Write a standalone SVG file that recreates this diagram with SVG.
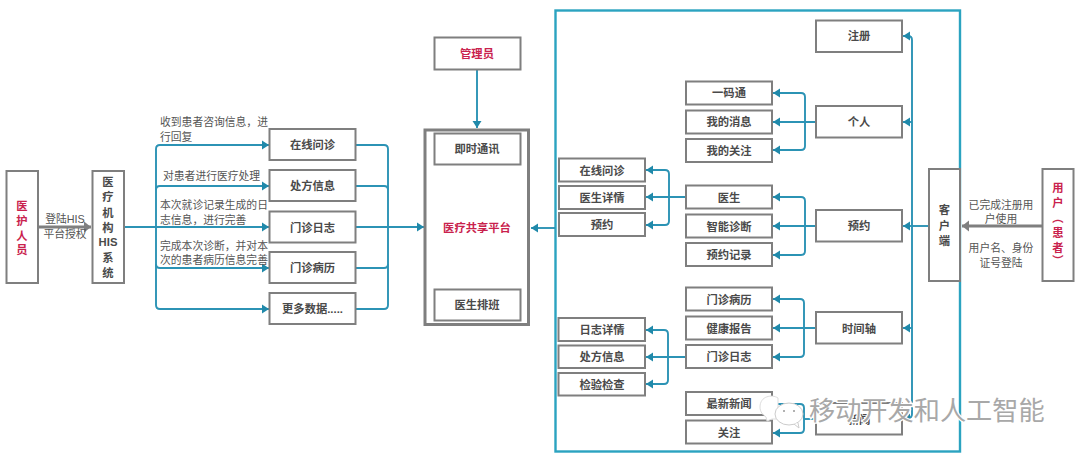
<svg xmlns="http://www.w3.org/2000/svg" width="1080" height="459" viewBox="0 0 1080 459">
<style>
text{font-family:"Liberation Sans","Noto Sans CJK SC",sans-serif;fill:#4a4a4a;text-anchor:middle;dominant-baseline:central}
.b{fill:#fff;stroke:#7f7f7f;stroke-width:2}
.n{font-size:11.3px;font-weight:700}
.r{fill:#c9224d;font-weight:700;font-size:11.3px}
.a{font-size:10.8px;font-weight:400;fill:#555;text-anchor:start}
.c{fill:#555;font-size:10.8px}
.t{fill:none;stroke:#2c93b5;stroke-width:1.9}
.g{fill:none;stroke:#7f7f7f;stroke-width:2.8}
.wm{font-size:26.2px;fill:#a8a8a8;stroke:#fff;stroke-width:2.5;paint-order:stroke;text-anchor:start}
</style>
<defs>
<marker id="at" markerUnits="userSpaceOnUse" markerWidth="8" markerHeight="10" refX="7" refY="5" orient="auto"><path d="M0 0.5L7 5L0 9.500Z" fill="#2089aa"/></marker>
<marker id="ag" markerUnits="userSpaceOnUse" markerWidth="8" markerHeight="12" refX="7" refY="6" orient="auto"><path d="M0 0.5L7 6L0 11.500Z" fill="#7f7f7f"/></marker>
</defs>
<rect width="1080" height="459" fill="#fff"/>
<rect id="frame" x="555.5" y="10.5" width="404.5" height="441" fill="none" stroke="#2ba3c0" stroke-width="2.4"/>
<g id="connectors">
<path class="g" d="M38 227H91" marker-end="url(#ag)"/>
<path class="g" d="M1042 226H962" marker-end="url(#ag)"/>
<g class="t">
<path d="M124 227H269" marker-end="url(#at)"/>
<path d="M269 145H160Q156 145 156 149V305Q156 309 160 309H269" marker-end="url(#at)"/>
<path d="M160 145H269" marker-end="url(#at)"/>
<path d="M156 190Q156 186 160 186H269" marker-end="url(#at)"/>
<path d="M156 264Q156 268 160 268H269" marker-end="url(#at)"/>
<path d="M356 145H384Q388 145 388 149V305Q388 309 384 309H356"/>
<path d="M356 186H384Q388 186 388 190"/>
<path d="M356 268H384Q388 268 388 264"/>
<path d="M356 227H424" marker-end="url(#at)"/>
<path d="M477 69V128" marker-end="url(#at)"/>
<path d="M555 228H531" marker-end="url(#at)"/>
<path d="M929 226H903" marker-end="url(#at)"/>
<path d="M908 36Q912 36 912 40V414Q912 418 908 418H903" marker-end="url(#at)"/>
<path d="M910 36H903" marker-end="url(#at)"/>
<path d="M912 122H903" marker-end="url(#at)"/>
<path d="M912 328H903" marker-end="url(#at)"/>
<path d="M816 122H773" marker-end="url(#at)"/>
<path d="M773 93H801Q805 93 805 97V146Q805 150 801 150H773"/>
<path d="M801 93H773" marker-end="url(#at)"/>
<path d="M801 150H773" marker-end="url(#at)"/>
<path d="M816 226H773" marker-end="url(#at)"/>
<path d="M773 197H801Q805 197 805 201V251Q805 255 801 255H773"/>
<path d="M801 197H773" marker-end="url(#at)"/>
<path d="M801 255H773" marker-end="url(#at)"/>
<path d="M686 197H646" marker-end="url(#at)"/>
<path d="M646 170H665Q669 170 669 174V221Q669 225 665 225H646"/>
<path d="M665 170H646" marker-end="url(#at)"/>
<path d="M665 225H646" marker-end="url(#at)"/>
<path d="M816 328H773" marker-end="url(#at)"/>
<path d="M773 299H800Q804 299 804 303V353Q804 357 800 357H773"/>
<path d="M800 299H773" marker-end="url(#at)"/>
<path d="M800 357H773" marker-end="url(#at)"/>
<path d="M686 357H646" marker-end="url(#at)"/>
<path d="M646 330H664Q668 330 668 334V380Q668 384 664 384H646"/>
<path d="M664 330H646" marker-end="url(#at)"/>
<path d="M664 384H646" marker-end="url(#at)"/>
<path d="M816 419H804"/>
<path d="M773 404H800Q804 404 804 408V429Q804 433 800 433H773"/>
<path d="M800 433H773" marker-end="url(#at)"/>
</g>
</g>
<g id="medstaff"><rect class="b" x="6.5" y="171" width="31.5" height="112"/><text class="r"><tspan x="22" y="206">医</tspan><tspan x="22" y="221">护</tspan><tspan x="22" y="236">人</tspan><tspan x="22" y="250">员</tspan></text></g>
<g id="his"><rect class="b" x="92.5" y="171" width="31.5" height="112"/><text class="n"><tspan x="108" y="182">医</tspan><tspan x="108" y="197">疗</tspan><tspan x="108" y="213">机</tspan><tspan x="108" y="228">构</tspan><tspan x="108" y="242">HIS</tspan><tspan x="108" y="258">系</tspan><tspan x="108" y="273">统</tspan></text></g>
<g id="lbl-auth"><text class="c" x="65" y="219">登陆HIS</text><text class="c" x="65" y="234">平台授权</text></g>
<g id="lbl-notes">
<text class="a" x="160" y="122">收到患者咨询信息，进</text><text class="a" x="160" y="137">行回复</text>
<text class="a" x="163" y="176">对患者进行医疗处理</text>
<text class="a" x="160" y="205">本次就诊记录生成的日</text><text class="a" x="160" y="220">志信息，进行完善</text>
<text class="a" x="160" y="246">完成本次诊断，并对本</text><text class="a" x="160" y="260">次的患者病历信息完善</text>
</g>
<g id="h1"><rect class="b" x="269.5" y="129" width="86" height="31"/><text class="n" x="312.5" y="145">在线问诊</text></g>
<g id="h2"><rect class="b" x="269.5" y="170" width="86" height="31"/><text class="n" x="312.5" y="186">处方信息</text></g>
<g id="h3"><rect class="b" x="269.5" y="211.500" width="86" height="31"/><text class="n" x="312.5" y="228">门诊日志</text></g>
<g id="h4"><rect class="b" x="269.5" y="252" width="86" height="31"/><text class="n" x="312.5" y="268">门诊病历</text></g>
<g id="h5"><rect class="b" x="269.5" y="293" width="86" height="31"/><text class="n" x="312.500" y="309">更多数据.....</text></g>
<g id="admin"><rect class="b" x="434.500" y="37.500" width="86" height="32"/><text class="r" x="477" y="54">管理员</text></g>
<g id="platform"><rect x="425" y="130" width="103.500" height="194.500" fill="#fff" stroke="#7f7f7f" stroke-width="3"/><text class="r" x="477" y="228">医疗共享平台</text></g>
<g id="im"><rect class="b" x="434.500" y="133.500" width="86" height="31"/><text class="n" x="477" y="149">即时通讯</text></g>
<g id="sched"><rect class="b" x="434.500" y="289.500" width="86" height="31"/><text class="n" x="477" y="305">医生排班</text></g>
<g id="l1"><rect class="b" x="559" y="158.500" width="86" height="23"/><text class="n" x="602" y="171">在线问诊</text></g>
<g id="l2"><rect class="b" x="559" y="186" width="86" height="23"/><text class="n" x="602" y="198">医生详情</text></g>
<g id="l3"><rect class="b" x="559" y="213" width="86" height="23"/><text class="n" x="602" y="225">预约</text></g>
<g id="l4"><rect class="b" x="558.500" y="318" width="86.500" height="23"/><text class="n" x="602" y="330">日志详情</text></g>
<g id="l5"><rect class="b" x="558.500" y="345.500" width="86.500" height="22.500"/><text class="n" x="602" y="357">处方信息</text></g>
<g id="l6"><rect class="b" x="558.500" y="373" width="86.500" height="22.500"/><text class="n" x="602" y="385">检验检查</text></g>
<g id="m1"><rect class="b" x="686" y="81.500" width="86" height="23"/><text class="n" x="729" y="93">一码通</text></g>
<g id="m2"><rect class="b" x="686" y="110.500" width="86" height="23"/><text class="n" x="729" y="122">我的消息</text></g>
<g id="m3"><rect class="b" x="686" y="139" width="86" height="23"/><text class="n" x="729" y="151">我的关注</text></g>
<g id="m4"><rect class="b" x="686" y="185.500" width="86" height="23"/><text class="n" x="729" y="198">医生</text></g>
<g id="m5"><rect class="b" x="686" y="214.500" width="86" height="23"/><text class="n" x="729" y="227">智能诊断</text></g>
<g id="m6"><rect class="b" x="686" y="243" width="86" height="23"/><text class="n" x="729" y="255">预约记录</text></g>
<g id="m7"><rect class="b" x="686" y="287.500" width="86" height="23"/><text class="n" x="729" y="300">门诊病历</text></g>
<g id="m8"><rect class="b" x="686" y="316.500" width="86" height="23"/><text class="n" x="729" y="329">健康报告</text></g>
<g id="m9"><rect class="b" x="686" y="345" width="86" height="23"/><text class="n" x="729" y="357">门诊日志</text></g>
<g id="m10"><rect class="b" x="686" y="392" width="86" height="23"/><text class="n" x="729" y="404">最新新闻</text></g>
<g id="m11"><rect class="b" x="686" y="420.500" width="86" height="23"/><text class="n" x="729" y="433">关注</text></g>
<g id="r1"><rect class="b" x="816" y="20.500" width="86" height="31.500"/><text class="n" x="859" y="36">注册</text></g>
<g id="r2"><rect class="b" x="816" y="106" width="86" height="31.500"/><text class="n" x="859" y="122">个人</text></g>
<g id="r3"><rect class="b" x="816" y="210" width="86" height="31.500"/><text class="n" x="859" y="226">预约</text></g>
<g id="r4"><rect class="b" x="816" y="312" width="86" height="31.500"/><text class="n" x="859" y="329">时间轴</text></g>
<g id="r5"><rect class="b" x="816" y="403" width="86" height="31.500"/><text class="n" x="859" y="420">新闻</text></g>
<g id="client"><rect class="b" x="929" y="169" width="31" height="112"/><text class="n"><tspan x="944.500" y="210">客</tspan><tspan x="944.500" y="226">户</tspan><tspan x="944.500" y="241">端</tspan></text></g>
<g id="lbl-user"><text class="c" x="1001" y="205">已完成注册用</text><text class="c" x="1001" y="219">户使用</text><text class="c" x="1001" y="248">用户名、身份</text><text class="c" x="1001" y="263">证号登陆</text></g>
<g id="patient"><rect class="b" x="1042.500" y="169" width="31" height="112"/><text class="r"><tspan x="1058" y="188">用</tspan><tspan x="1058" y="203">户</tspan><tspan x="1058" y="218">︵</tspan><tspan x="1058" y="233">患</tspan><tspan x="1058" y="248">者</tspan><tspan x="1058" y="261">︶</tspan></text></g>
<g id="watermark">
<path d="M778 398c-6-4-18-2-18 9 0 5 3 8 6 10l1 4 5-2h6z" fill="#fff" stroke="#ddd" stroke-width="1"/>
<ellipse cx="789" cy="414" rx="14" ry="11" fill="#fff" stroke="#ccc" stroke-width="1"/>
<path d="M794 424l5 4-1-5" fill="#fff" stroke="#ccc" stroke-width="1"/>
<circle cx="784" cy="411" r="1" fill="#999"/><circle cx="794" cy="411" r="1" fill="#999"/>
<text class="wm" x="809" y="411">移动开发和人工智能</text>
</g>
</svg>
